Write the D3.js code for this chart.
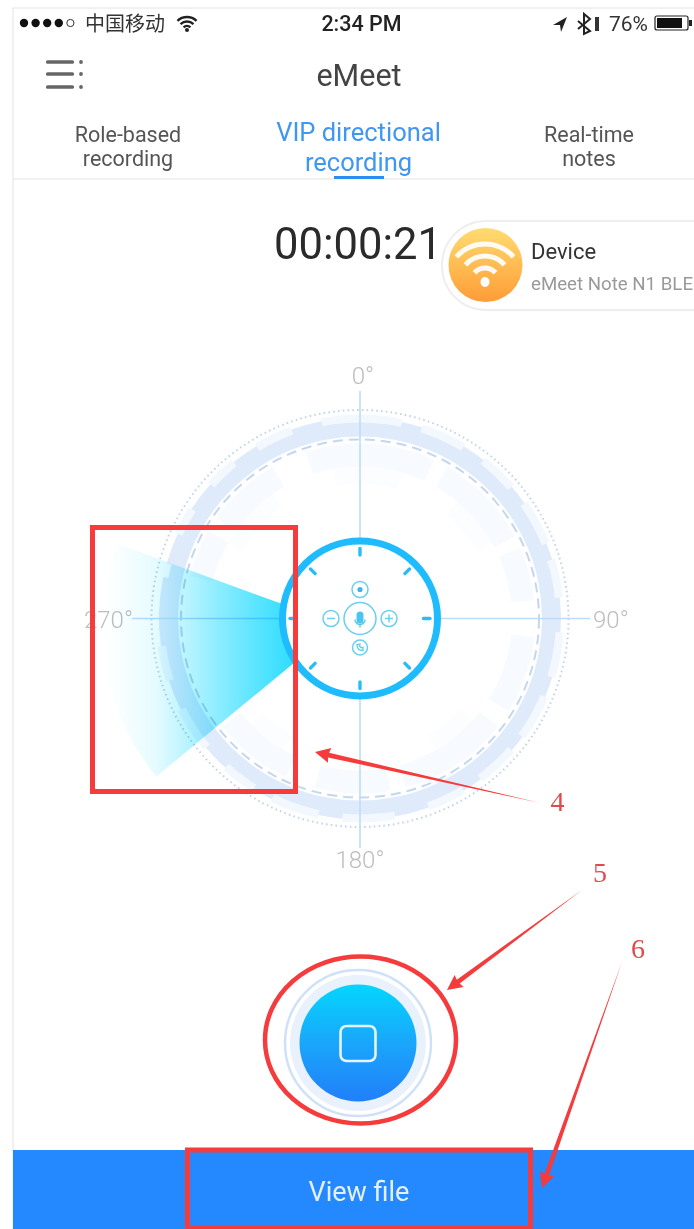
<!DOCTYPE html>
<html><head><meta charset="utf-8">
<script src="https://cdn.jsdelivr.net/npm/d3@7"></script>
<style>html,body{margin:0;padding:0;background:#fff;overflow:hidden}svg{display:block}
text{font-family:Roboto,"Noto Sans CJK SC",sans-serif}</style></head><body>
<svg id="c" width="694" height="1229"></svg>
<script>
// ---- data ----
const directionLabels = ["0°","90°","180°","270°"];
const tickAngles = [0,45,90,135,180,225,270,315];
const bumps = [[12,18],[31,38],[49,55],[68,73],[84,94],[107,113],[126,131],[143,149],[160,170],[185,192],[206,212],[222,230],[243,252],[262,282],[286,295],[303,312],[321,329],[340,349]];
const lightOuter = [[18,31],[38,49],[55,68],[73,84],[94,107],[113,126],[131,143],[149,160],[170,185],[192,206],[212,222],[230,243],[252,262],[295,303],[312,321],[329,340],[349,12]];
const innerRingA = [[342,25],[30,62],[66,84],[96,122],[128,165],[170,195],[205,232],[284,300],[305,330]];
const innerRingB = [[350,16],[40,60],[132,150],[210,226],[300,325]];
const wedgeAngles = [230.5,290];
const tabs = [["Role-based","recording"],["VIP directional","recording"],["Real-time","notes"]];
const annotations = ["4","5","6"];
const statusRight = "76%", statusTime = "2:34 PM", carrier = "中国移动";
const appTitle = "eMeet", timer = "00:00:21", deviceTitle = "Device", deviceName = "eMeet Note N1 BLE";
const buttonLabel = "View file";

const svg = d3.select("#c");
const defs = svg.append("defs");
const cx = 360, cy = 618.5;
const ang = d3.scaleLinear().domain([0,360]).range([0,2*Math.PI]);
const arc = d3.arc();
const sector = (a,b,r0,r1)=>arc({startAngle:ang(a),endAngle:ang(b<a?b+360:b),innerRadius:r0,outerRadius:r1});

function grad(id,x1,y1,x2,y2,stops,units){
  const g=defs.append("linearGradient").attr("id",id).attr("x1",x1).attr("y1",y1).attr("x2",x2).attr("y2",y2);
  if(units) g.attr("gradientUnits",units);
  stops.forEach(s=>g.append("stop").attr("offset",s[0]).attr("stop-color",s[1]));
}
grad("wedgeG",-232,0,-44,0,[[0,"#ffffff"],[0.25,"#e6fbff"],[0.55,"#96eeff"],[0.8,"#58e4ff"],[1,"#2cdcff"]],"userSpaceOnUse");
grad("btnG",0,0,0,1,[[0,"#04d6fd"],[0.5,"#1aa6fb"],[1,"#217ffa"]]);
grad("wifiG",0,0,0,1,[[0,"#ffdc70"],[1,"#ff9c36"]]);

const T=(x,y,s,size,fill,opt={})=>{
  const t=svg.append("text").attr("x",x).attr("y",y).text(s).attr("font-size",size).attr("fill",fill)
    .attr("text-anchor",opt.anchor||"middle").attr("font-weight",opt.w||400);
  if(opt.family) t.style("font-family",opt.family);
  if(opt.ls) t.attr("letter-spacing",opt.ls);
  return t;
};

// page frame + bottom bar
svg.append("rect").attr("x",13).attr("y",8).attr("width",690).attr("height",1230).attr("fill","#fff").attr("stroke","#e4e4e4").attr("stroke-width",1);
svg.append("rect").attr("x",13).attr("y",1150).attr("width",681).attr("height",79).attr("fill","#2488ff");
T(359,1201,buttonLabel,27,"#e4f0ff",{w:400});

// status bar
d3.range(5).forEach(i=>{
  svg.append("circle").attr("cx",24+i*11.6).attr("cy",23).attr("r",i<4?4.2:3.6)
    .attr("fill",i<4?"#111":"#fff").attr("stroke",i<4?"none":"#333").attr("stroke-width",1);
});
T(85,31,carrier,20,"#333",{anchor:"start",family:'"Noto Sans CJK SC"'});
const wifi=svg.append("g").attr("transform","translate(187,31)").attr("fill","none").attr("stroke","#222").attr("stroke-width",2.4);
[5,9.5,14].forEach(r=>wifi.append("path").attr("d",d3.arc()({startAngle:-0.75,endAngle:0.75,innerRadius:r,outerRadius:r})));
wifi.append("circle").attr("cy",-1).attr("r",2).attr("fill","#222").attr("stroke","none");
T(361.5,31,statusTime,21.5,"#222",{w:500});
svg.append("path").attr("d","M553 25 L567 17 L561 32 L560 25 Z").attr("fill","#222");
svg.append("path").attr("d","M578 21 L590 31 L584 34 L584 14 L590 19 L578 29").attr("fill","none").attr("stroke","#222").attr("stroke-width",2);
svg.append("rect").attr("x",595).attr("y",17).attr("width",4).attr("height",14).attr("fill","#333");
T(609,31,statusRight,21,"#333",{anchor:"start"});
svg.append("rect").attr("x",655).attr("y",16).attr("width",33).attr("height",14).attr("rx",2).attr("fill","#fff").attr("stroke","#222").attr("stroke-width",1.2);
svg.append("rect").attr("x",657).attr("y",18).attr("width",25).attr("height",10).attr("fill","#111");
svg.append("rect").attr("x",689).attr("y",20).attr("width",3).attr("height",6).attr("fill","#222");

// nav
[62,74,87].forEach(y=>{
  svg.append("rect").attr("x",46).attr("y",y-1.8).attr("width",28).attr("height",3.6).attr("rx",1.5).attr("fill","#666");
  svg.append("circle").attr("cx",81).attr("cy",y).attr("r",1.9).attr("fill","#666");
});
T(359,86,appTitle,30.5,"#444",{w:400});
T(128,142,tabs[0][0],21.5,"#555");T(128,166,tabs[0][1],21.5,"#555");
T(358.5,141,tabs[1][0],25.5,"#3f97f2");T(358.5,171,tabs[1][1],25.5,"#3f97f2");
T(589,142,tabs[2][0],21.5,"#555");T(589,166,tabs[2][1],21.5,"#555");
svg.append("line").attr("x1",13).attr("x2",694).attr("y1",179).attr("y2",179).attr("stroke","#e2e2e2").attr("stroke-width",1);
svg.append("rect").attr("x",334).attr("y",176).attr("width",50).attr("height",3).attr("fill","#2c8cf2");

// timer & device card
T(358,259,timer,43.5,"#2a2a2a",{w:400});
svg.append("rect").attr("x",442).attr("y",221).attr("width",300).attr("height",89).attr("rx",44).attr("fill","#fff").attr("stroke","#eeeeee").attr("stroke-width",2);
svg.append("ellipse").attr("cx",485.5).attr("cy",265).attr("rx",37).attr("ry",37).attr("fill","url(#wifiG)");
const w2=svg.append("g").attr("transform","translate(485,282)").attr("fill","none").attr("stroke","#fff").attr("stroke-opacity",.92).attr("stroke-width",5).attr("stroke-linecap","round");
[14,26,38].forEach(r=>w2.append("path").attr("d",d3.arc()({startAngle:-0.85,endAngle:0.85,innerRadius:r,outerRadius:r})));
w2.append("ellipse").attr("rx",4.5).attr("ry",5).attr("fill","#fff").attr("stroke","none");
T(531,259,deviceTitle,22,"#333",{anchor:"start"});
T(531,290,deviceName,18.5,"#999",{anchor:"start"}).attr("textLength",162).attr("lengthAdjust","spacingAndGlyphs");

// dial
const dial=svg.append("g").attr("transform",`translate(${cx},${cy})`);
const seg=(list,r0,r1,fill)=>dial.append("g").selectAll("path").data(list).join("path").attr("d",d=>sector(d[0],d[1],r0,r1)).attr("fill",fill);
seg(innerRingB,135,152,"#fcfdff");
seg(innerRingA,152,175,"#f7fafe");
seg(lightOuter,196,204,"#f3f7fe");
dial.append("path").attr("d",sector(0,360,182,196)).attr("fill","#dfebfb");
seg(bumps,195,201,"#dfebfb");
dial.append("circle").attr("r",179).attr("fill","none").attr("stroke","#c5d6ef").attr("stroke-width",2).attr("stroke-dasharray","10 6");
dial.append("circle").attr("r",208.5).attr("fill","none").attr("stroke","#c2d5e8").attr("stroke-width",2).attr("stroke-dasharray","1.6 3.2");

// axes
[[cx,391,cx,538],[cx,699,cx,848],[132,cy,280,cy],[440,cy,590,cy]].forEach(l=>{
  svg.append("line").attr("x1",l[0]).attr("y1",l[1]).attr("x2",l[2]).attr("y2",l[3]).attr("stroke","#bcdcfa").attr("stroke-width",1.6);
});
// direction labels
const labelPos=[[363,384,"middle"],[593,628,"start"],[360,868,"middle"],[133,628,"end"]];
directionLabels.forEach((s,i)=>T(labelPos[i][0],labelPos[i][1],s,24,"#bdbdbd",{anchor:labelPos[i][2],w:300}));

// wedge
svg.append("path").attr("transform","translate(340,625)").style("mix-blend-mode","multiply")
  .attr("d",sector(wedgeAngles[0],wedgeAngles[1],0,238)).attr("fill","url(#wedgeG)");

// device ring
const ring=svg.append("g").attr("transform",`translate(${cx},${cy})`);
ring.append("circle").attr("r",77.5).attr("fill","#fff").attr("stroke","#1fbcfd").attr("stroke-width",7);
ring.selectAll("line").data(tickAngles).join("line")
  .attr("x1",d=>63.5*Math.sin(ang(d))).attr("y1",d=>-63.5*Math.cos(ang(d)))
  .attr("x2",d=>70*Math.sin(ang(d))).attr("y2",d=>-70*Math.cos(ang(d)))
  .attr("stroke","#29bdf5").attr("stroke-width",3.4).attr("stroke-linecap","round");
const ic="#66cff2";
[[0,-29,8],[0,29,7.5],[-29,0,8],[29,0,8]].forEach(d=>ring.append("circle").attr("cx",d[0]).attr("cy",d[1]).attr("r",d[2]).attr("fill","none").attr("stroke",ic).attr("stroke-width",1.5));
ring.append("circle").attr("r",16).attr("fill","none").attr("stroke",ic).attr("stroke-width",1.5);
ring.append("rect").attr("x",-3.5).attr("y",-7).attr("width",7).attr("height",12).attr("rx",3.5).attr("fill","#4cc4f0");
ring.append("path").attr("d","M-5 1 A5 5 0 0 0 5 1 M0 6V9").attr("fill","none").attr("stroke","#4cc4f0").attr("stroke-width",1.3);
ring.append("circle").attr("cy",-29).attr("r",2.6).attr("fill","#3db6e6");
ring.append("path").attr("d","M-33 0H-25 M25 0H33 M29 -4V4").attr("stroke",ic).attr("stroke-width",1.4);
ring.append("path").attr("d","M-3 26 Q-3 32 3 32 L3 29 L1 29 L-.5 27.5 L0 25.5 Z").attr("fill","none").attr("stroke",ic).attr("stroke-width",1.4);

// stop button
const bx=358,by=1043;
svg.append("circle").attr("cx",bx).attr("cy",by).attr("r",73).attr("fill","#fff").attr("stroke","#cfe1f9").attr("stroke-width",2.4);
svg.append("circle").attr("cx",bx).attr("cy",by).attr("r",68).attr("fill","#e9f1fc");
svg.append("circle").attr("cx",bx).attr("cy",by).attr("r",58.5).attr("fill","url(#btnG)");
svg.append("rect").attr("x",bx-17.5).attr("y",by-17).attr("width",35).attr("height",35).attr("rx",6).attr("fill","none").attr("stroke","#e6f4ff").attr("stroke-width",2.6);

// red annotation
const red="#f53b3b";
const box=(x,y,w,h)=>svg.append("rect").attr("x",x).attr("y",y).attr("width",w).attr("height",h).attr("fill","none").attr("stroke",red).attr("stroke-width",5);
box(92.5,527.5,203,264);
box(187.5,1150,343,78);
svg.append("ellipse").attr("cx",360.5).attr("cy",1040).attr("rx",95.5).attr("ry",83.5).attr("fill","none").attr("stroke",red).attr("stroke-width",4.5);
function arrow(x1,y1,x2,y2){
  const a=Math.atan2(y2-y1,x2-x1),ux=Math.cos(a),uy=Math.sin(a),nx=-uy,ny=ux;
  const P=(t,w)=>[x2-ux*t+nx*w,y2-uy*t+ny*w];
  svg.append("path").attr("d",d3.line()([[x1,y1],P(14,-2.4),P(15,-7.5),[x2,y2],P(15,7.5),P(14,2.4)])+"Z").attr("fill",red);
}
arrow(540,803,315,752);
arrow(582,890,447,990);
arrow(622,962,542,1188);
const sf='"Liberation Serif",serif';
T(557.5,811,annotations[0],28,"#e04a4a",{family:sf});
T(600,882,annotations[1],28,"#e04a4a",{family:sf});
T(638,958,annotations[2],28,"#e04a4a",{family:sf});
</script></body></html>
